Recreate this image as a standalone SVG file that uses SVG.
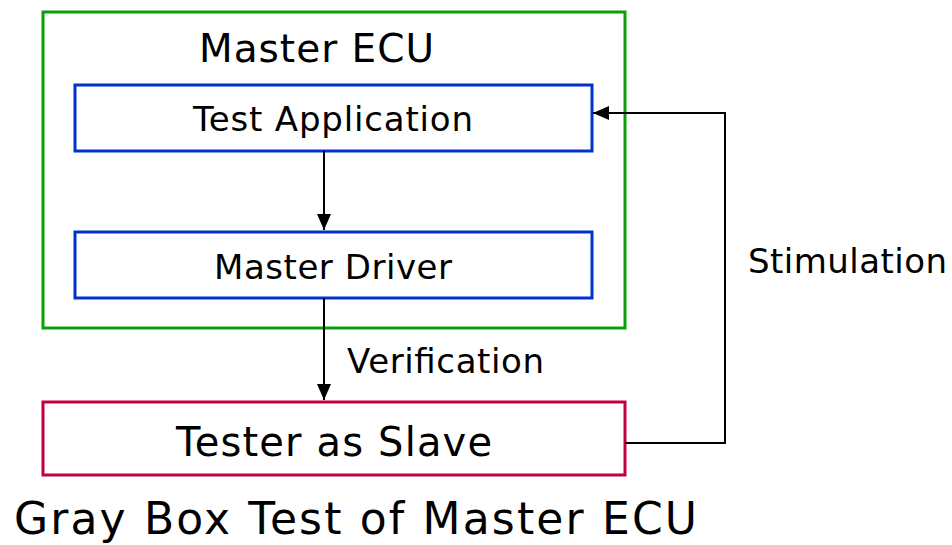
<svg xmlns="http://www.w3.org/2000/svg" width="952" height="545" viewBox="0 0 952 545">
<defs>
<marker id="ah" markerWidth="16" markerHeight="14" refX="16" refY="7" orient="auto" markerUnits="userSpaceOnUse">
<path d="M0,0 L16,7 L0,14 Z" fill="#000"/>
</marker>
<style>
.t{font-family:"DejaVu Sans","Liberation Sans",sans-serif;fill:#000}
.box{fill:#fff;stroke-width:3}
.conn{fill:none;stroke:#000;stroke-width:2}
</style>
</defs>
<rect width="952" height="545" fill="#fff"/>
<g id="master-ecu">
<rect class="box" x="43" y="12" width="582" height="316" stroke="#0a9e0a"/>
<text class="t" x="199" y="62" font-size="39" textLength="235" lengthAdjust="spacing">Master ECU</text>
</g>
<g id="test-application">
<rect class="box" x="75" y="85" width="517" height="66" stroke="#0033cc"/>
<text class="t" x="193" y="131" font-size="34" textLength="280" lengthAdjust="spacing">Test Application</text>
</g>
<g id="master-driver">
<rect class="box" x="75" y="232" width="517" height="66" stroke="#0033cc"/>
<text class="t" x="214" y="279" font-size="34" textLength="238" lengthAdjust="spacing">Master Driver</text>
</g>
<g id="tester-as-slave">
<rect class="box" x="43" y="402" width="582" height="73" stroke="#c0003c"/>
<text class="t" x="176" y="456" font-size="40" textLength="316" lengthAdjust="spacing">Tester as Slave</text>
</g>
<g id="connectors">
<path class="conn" d="M324,151 L324,230" marker-end="url(#ah)"/>
<path class="conn" d="M324,298 L324,400" marker-end="url(#ah)"/>
<path class="conn" d="M625,443 L725,443 L725,113 L593,113" marker-end="url(#ah)"/>
<text class="t" x="347" y="373" font-size="34" textLength="197" lengthAdjust="spacing">Verification</text>
<text class="t" x="748" y="273" font-size="34" textLength="199" lengthAdjust="spacing">Stimulation</text>
</g>
<text class="t" x="14" y="534" font-size="44" textLength="683" lengthAdjust="spacing">Gray Box Test of Master ECU</text>
</svg>
